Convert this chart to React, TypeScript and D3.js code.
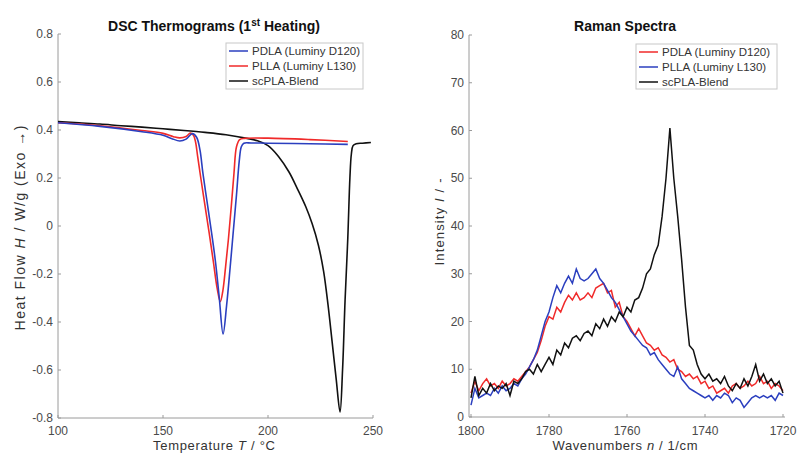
import React from "react";
import * as d3 from "d3";

// ---------- DSC data ----------
const dscSeriesNames = ["PDLA (Luminy D120)", "PLLA (Luminy L130)", "scPLA-Blend"];
const pdlaT = [100,120,140,150,154,158,161,164,166,167.6,169,171,173,175,176.8,178.6,180.3,182,183.5,185,186.3,187.3,188.5,192,200,220,238];
const pdlaH = [0.43,0.415,0.393,0.378,0.365,0.354,0.362,0.385,0.37,0.317,0.22,0.1,-0.02,-0.15,-0.3,-0.45,-0.33,-0.17,-0.02,0.13,0.27,0.33,0.345,0.346,0.345,0.343,0.34];
const pllaT = [100,120,140,150,155,158,161,163,164.5,165.5,166.5,168,170,172,174,175.8,177.3,178.5,179.8,181.2,182.5,183.8,185,186.5,189,200,220,238];
const pllaH = [0.43,0.418,0.398,0.386,0.372,0.367,0.373,0.387,0.378,0.35,0.29,0.2,0.085,-0.03,-0.15,-0.26,-0.315,-0.27,-0.17,-0.05,0.08,0.22,0.33,0.36,0.365,0.366,0.36,0.352];
const blendT = [100,110,120,130,140,150,160,170,180,190,195,200,205,210,214,218,221,224,226.5,228.6,230.5,232.5,234.3,235.5,236.7,238,239,239.7,240.5,242,245,249];
const blendH = [0.435,0.43,0.425,0.418,0.412,0.405,0.398,0.39,0.38,0.365,0.355,0.335,0.29,0.225,0.155,0.08,0.01,-0.08,-0.19,-0.33,-0.48,-0.64,-0.775,-0.6,-0.31,-0.05,0.2,0.3,0.335,0.343,0.345,0.348];
const dscXTicks = [100, 150, 200, 250];
const dscYTicks = [-0.8, -0.6, -0.4, -0.2, 0, 0.2, 0.4, 0.6, 0.8];

// ---------- Raman data (1800 -> 1720 cm^-1, step 1) ----------
const ramanSeriesNames = ["PDLA (Luminy D120)", "PLLA (Luminy L130)", "scPLA-Blend"];
const wavenumbers = d3.range(1800, 1719, -1);
const ramanPDLA = [5,7.5,5.5,7,8,6.5,7,6,7.5,6.5,7,8,7.5,8.5,9.5,10.5,12,13.5,16,19,21,20.5,23,22,24,25.5,24.5,26,24.5,25,26,25,27,27.5,28,26,26.5,23,24,21,20,18.5,17,18.5,17,15.5,15,14,14.5,13,12.5,11.5,12,10,9.5,8.5,9,8,8.5,7,7.5,6,6.5,5,5.5,6,5,6.5,7,6,6.5,7.5,6.5,7,8.5,7,7.5,6,7,6.5,5.5];
const ramanPLLA = [2.5,6,4,4.5,5,4.5,6,5,6.5,5.5,6,7,6.5,8,9,10.5,12,14,17,20,22,25,27.5,26,28,29.5,28,31,29,28.5,29,30,31,29,28,26.5,25,24,22.5,21,19.5,18,17,16,15,14.5,13,13.5,12,11,10,9,8.5,10.5,8,7,6,5.5,5,4.5,4,4.5,3.5,4.5,4,5,4.5,3,4,3.5,2,3,4,4.5,4,4.5,4,4.5,3.5,5,4.5];
const ramanBlend = [4,8.5,4.5,6,5,7,5.5,6.5,6,7,4.5,7.5,7,8,9.5,10,9,11,9.5,11,12.5,11,14,13,15.5,14.5,16.5,17,16,17.5,18,17,19.5,18.5,20.5,19,21,20,22,21,23,22,24.5,25,27,30,31,34,36,42,50,60.5,50,42,33,23,15,14,11,9,8,9,7.5,8,7,8.5,6.5,5.5,7,6,8,6.5,8.5,11,7.5,9,7,8,6.5,7.5,5];
const ramanXTicks = [1800, 1780, 1760, 1740, 1720];
const ramanYTicks = [0, 10, 20, 30, 40, 50, 60, 70, 80];

const BLUE = "#2b3fbf";
const RED = "#f02a2a";
const BLACK = "#111111";
const AXIS = "#9a9a9a";
const TICKTXT = "#4a4a4a";
const FONT = "'Liberation Sans', Arial, Helvetica, sans-serif";

type Pt = [number, number];

function Legend({ x, y, w, h, items }: { x: number; y: number; w: number; h: number; items: { name: string; color: string }[] }) {
  return (
    <g>
      <rect x={x} y={y} width={w} height={h} fill="#fff" stroke="#c8c8c8" strokeWidth={1} />
      {items.map((it, i) => {
        const yy = y + 8 + i * 15;
        return (
          <g key={i}>
            <line x1={x + 3} x2={x + 22} y1={yy} y2={yy} stroke={it.color} strokeWidth={1.5} />
            <text x={x + 26} y={yy + 4} fontSize={11.5} fill="#333" fontFamily={FONT}>{it.name}</text>
          </g>
        );
      })}
    </g>
  );
}

export default function App() {
  // DSC scales
  const dx = d3.scaleLinear().domain([100, 250]).range([58, 373]);
  const dy = d3.scaleLinear().domain([-0.8, 0.8]).range([418, 34]);
  const dLine = d3.line<Pt>().x(d => dx(d[0])).y(d => dy(d[1])).curve(d3.curveCatmullRom.alpha(0.5));
  const zip = (a: number[], b: number[]): Pt[] => a.map((v, i) => [v, b[i]]);

  // Raman scales
  const rx = d3.scaleLinear().domain([1800, 1720]).range([471, 783]);
  const ry = d3.scaleLinear().domain([0, 80]).range([417, 35]);
  const rLine = d3.line<Pt>().x(d => rx(d[0])).y(d => ry(d[1]));

  return (
    <svg width={808} height={453} style={{ position: "absolute", left: 0, top: 0, background: "#fff" }} fontFamily={FONT}>
      <rect x={0} y={0} width={808} height={453} fill="#fff" />

      {/* ---------- DSC panel ---------- */}
      <text x={214} y={31} textAnchor="middle" fontSize={14} fontWeight="bold" fill="#111">
        DSC Thermograms (1<tspan dy={-5} fontSize={10}>st</tspan><tspan dy={5}> Heating)</tspan>
      </text>
      <line x1={dx(100)} x2={dx(100)} y1={dy(0.8)} y2={dy(-0.8)} stroke={AXIS} />
      <line x1={dx(100)} x2={dx(250)} y1={dy(-0.8)} y2={dy(-0.8)} stroke={AXIS} />
      {dscYTicks.map(t => (
        <g key={"dy" + t}>
          <line x1={dx(100)} x2={dx(100) + 3} y1={dy(t)} y2={dy(t)} stroke={AXIS} />
          <text x={53} y={dy(t) + 4} textAnchor="end" fontSize={12} fill={TICKTXT}>{t === 0 ? "0" : d3.format(".1f")(t).replace("−", "-")}</text>
        </g>
      ))}
      {dscXTicks.map(t => (
        <g key={"dx" + t}>
          <line x1={dx(t)} x2={dx(t)} y1={dy(-0.8)} y2={dy(-0.8) - 3} stroke={AXIS} />
          <text x={dx(t)} y={435} textAnchor="middle" fontSize={12} fill={TICKTXT}>{t}</text>
        </g>
      ))}
      <text x={214} y={450} textAnchor="middle" fontSize={13} fill="#333" textLength={122} lengthAdjust="spacing">
        Temperature <tspan fontStyle="italic">T</tspan> / °C
      </text>
      <text transform="translate(25,228) rotate(-90)" textAnchor="middle" fontSize={14} fill="#333" textLength={205} lengthAdjust="spacing">
        Heat Flow <tspan fontStyle="italic">H</tspan> / W/g (Exo →)
      </text>
      <path d={dLine(zip(blendT, blendH)) || ""} fill="none" stroke={BLACK} strokeWidth={1.6} />
      <path d={dLine(zip(pllaT, pllaH)) || ""} fill="none" stroke={RED} strokeWidth={1.6} />
      <path d={dLine(zip(pdlaT, pdlaH)) || ""} fill="none" stroke={BLUE} strokeWidth={1.6} />
      <Legend x={226} y={43} w={137} h={46} items={[
        { name: dscSeriesNames[0], color: BLUE },
        { name: dscSeriesNames[1], color: RED },
        { name: dscSeriesNames[2], color: BLACK },
      ]} />

      {/* ---------- Raman panel ---------- */}
      <text x={625} y={31} textAnchor="middle" fontSize={14} fontWeight="bold" fill="#111">Raman Spectra</text>
      <line x1={469} x2={469} y1={ry(80)} y2={ry(0)} stroke={AXIS} />
      <line x1={469} x2={785} y1={ry(0)} y2={ry(0)} stroke={AXIS} />
      {ramanYTicks.map(t => (
        <g key={"ry" + t}>
          <line x1={469} x2={472} y1={ry(t)} y2={ry(t)} stroke={AXIS} />
          <text x={464} y={ry(t) + 4} textAnchor="end" fontSize={12} fill={TICKTXT}>{t}</text>
        </g>
      ))}
      {ramanXTicks.map(t => (
        <g key={"rx" + t}>
          <line x1={rx(t)} x2={rx(t)} y1={ry(0)} y2={ry(0) - 3} stroke={AXIS} />
          <text x={rx(t)} y={435} textAnchor="middle" fontSize={12} fill={TICKTXT}>{t}</text>
        </g>
      ))}
      <text x={625} y={450} textAnchor="middle" fontSize={13} fill="#333" textLength={145} lengthAdjust="spacing">
        Wavenumbers <tspan fontStyle="italic">n</tspan> / 1/cm
      </text>
      <text transform="translate(444,222) rotate(-90)" textAnchor="middle" fontSize={13} fill="#333" textLength={87} lengthAdjust="spacing">
        Intensity <tspan fontStyle="italic">I</tspan> / -
      </text>
      <path d={rLine(zip(wavenumbers, ramanPDLA)) || ""} fill="none" stroke={RED} strokeWidth={1.5} />
      <path d={rLine(zip(wavenumbers, ramanPLLA)) || ""} fill="none" stroke={BLUE} strokeWidth={1.5} />
      <path d={rLine(zip(wavenumbers, ramanBlend)) || ""} fill="none" stroke={BLACK} strokeWidth={1.5} />
      <Legend x={636} y={44} w={141} h={45} items={[
        { name: ramanSeriesNames[0], color: RED },
        { name: ramanSeriesNames[1], color: BLUE },
        { name: ramanSeriesNames[2], color: BLACK },
      ]} />
    </svg>
  );
}
